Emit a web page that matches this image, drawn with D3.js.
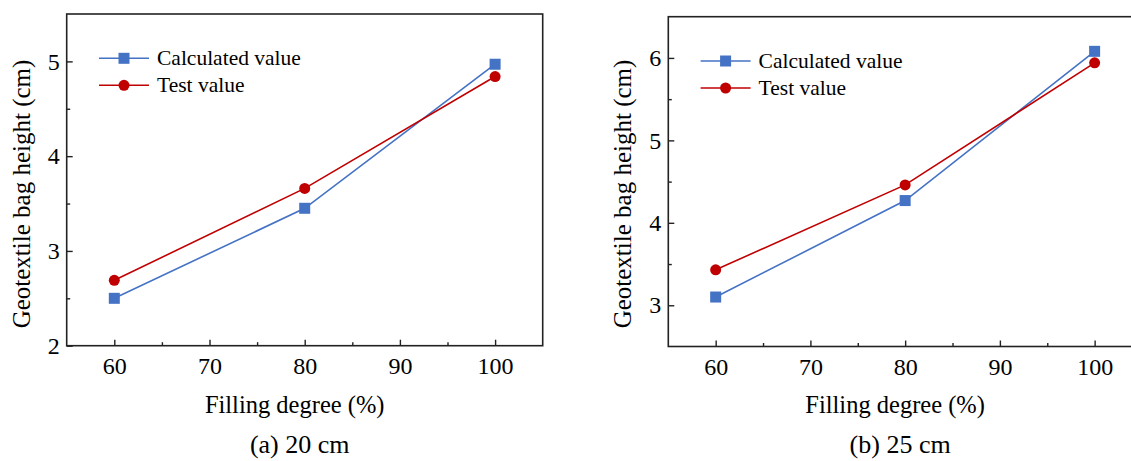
<!DOCTYPE html>
<html>
<head>
<meta charset="utf-8">
<script src="https://cdn.jsdelivr.net/npm/d3@7"></script>
<style>
  body { margin: 0; background: #fff; }
  .frame { fill: none; stroke: #222; stroke-width: 1.6; }
  .axis path { display: none; }
  .axis line { stroke: #222; stroke-width: 1.4; }
</style>
</head>
<body>
<svg id="chart" width="1131" height="461"></svg>
<script>
// ── Data ──
const fillingDegree = [60, 80, 100];
const calc20 = [2.50, 3.45, 4.97];
const test20 = [2.69, 3.66, 4.84];
const calc25 = [3.10, 4.27, 6.08];
const test25 = [3.43, 4.46, 5.94];

const xTicks = [60, 70, 80, 90, 100];
const xMinor = [65, 75, 85, 95];
const yTicks20 = [2, 3, 4, 5];
const yMinor20 = [2.5, 3.5, 4.5];
const yTicks25 = [3, 4, 5, 6];
const yMinor25 = [3.5, 4.5, 5.5];

const seriesNames = ["Calculated value", "Test value"];
const BLUE = "#4472C4";
const RED = "#C00000";
const FONT = "'Liberation Serif', 'Times New Roman', serif";

const svg = d3.select("#chart");

// ── Panel builder ──
function drawPanel(opt) {
  const { left, right, top, bottom, yDomain, yTicks, yMinor, calc, test, caption } = opt;

  const x = d3.scaleLinear().domain([55, 105]).range([left, right]);
  const y = d3.scaleLinear().domain(yDomain).range([bottom, top]);

  const g = svg.append("g");

  // ticks point inward
  const xAx = g.append("g").attr("class", "axis")
    .attr("transform", `translate(0,${bottom})`)
    .call(d3.axisBottom(x).tickValues(xTicks).tickSize(-6).tickPadding(11).tickFormat(d3.format("d")));
  g.append("g").attr("class", "axis")
    .attr("transform", `translate(0,${bottom})`)
    .call(d3.axisBottom(x).tickValues(xMinor).tickSize(-3.5).tickFormat(""));

  const yAx = g.append("g").attr("class", "axis")
    .attr("transform", `translate(${left},0)`)
    .call(d3.axisLeft(y).tickValues(yTicks).tickSize(-6).tickPadding(7).tickFormat(d3.format("d")));
  g.append("g").attr("class", "axis")
    .attr("transform", `translate(${left},0)`)
    .call(d3.axisLeft(y).tickValues(yMinor).tickSize(-3.5).tickFormat(""));

  [xAx, yAx].forEach(a => a.attr("font-family", FONT).attr("font-size", 24)
    .selectAll("text").attr("fill", "#000"));

  // frame
  g.append("rect").attr("class", "frame")
    .attr("x", left).attr("y", top)
    .attr("width", right - left).attr("height", bottom - top);

  const line = d3.line().x((d, i) => x(fillingDegree[i])).y(d => y(d));

  g.append("path").attr("d", line(calc))
    .attr("fill", "none").attr("stroke", BLUE).attr("stroke-width", 1.6);
  g.append("path").attr("d", line(test))
    .attr("fill", "none").attr("stroke", RED).attr("stroke-width", 1.6);

  g.selectAll(".sq").data(calc).join("rect")
    .attr("x", (d, i) => x(fillingDegree[i]) - 5.5)
    .attr("y", d => y(d) - 5.5)
    .attr("width", 11).attr("height", 11)
    .attr("fill", BLUE);
  g.selectAll(".ci").data(test).join("circle")
    .attr("cx", (d, i) => x(fillingDegree[i]))
    .attr("cy", d => y(d))
    .attr("r", 5.5)
    .attr("fill", RED);

  // legend
  const lx = left + 32.3, ly = top + 44.3;
  seriesNames.forEach((name, i) => {
    const yy = ly + i * 27;
    const col = i === 0 ? BLUE : RED;
    g.append("line").attr("x1", lx).attr("x2", lx + 50)
      .attr("y1", yy).attr("y2", yy)
      .attr("stroke", col).attr("stroke-width", 1.6);
    if (i === 0) {
      g.append("rect").attr("x", lx + 25 - 5.5).attr("y", yy - 5.5)
        .attr("width", 11).attr("height", 11).attr("fill", col);
    } else {
      g.append("circle").attr("cx", lx + 25).attr("cy", yy).attr("r", 5.5).attr("fill", col);
    }
    g.append("text").attr("x", lx + 58).attr("y", yy + 7)
      .attr("font-family", FONT)
      .attr("font-size", 21.5).attr("fill", "#000").text(name);
  });

  // axis titles
  g.append("text")
    .attr("transform", `translate(${left - 37},${194}) rotate(-90)`)
    .attr("text-anchor", "middle")
    .attr("font-family", FONT)
    .attr("font-size", 25).attr("fill", "#000")
    .text("Geotextile bag height (cm)");

  const cx = (left + right) / 2;
  g.append("text")
    .attr("x", cx - 10).attr("y", 413)
    .attr("text-anchor", "middle")
    .attr("font-family", FONT)
    .attr("font-size", 24.5).attr("fill", "#000")
    .text("Filling degree (%)");

  g.append("text")
    .attr("x", cx - 5).attr("y", 453)
    .attr("text-anchor", "middle")
    .attr("font-family", FONT)
    .attr("font-size", 26).attr("fill", "#000")
    .text(caption);
}

drawPanel({
  left: 66.7, right: 542.7, top: 14, bottom: 345.7,
  yDomain: [2, 5.5], yTicks: yTicks20, yMinor: yMinor20,
  calc: calc20, test: test20, caption: "(a) 20 cm"
});

drawPanel({
  left: 668.3, right: 1142, top: 16.7, bottom: 346.5,
  yDomain: [2.5, 6.5], yTicks: yTicks25, yMinor: yMinor25,
  calc: calc25, test: test25, caption: "(b) 25 cm"
});
</script>
</body>
</html>
